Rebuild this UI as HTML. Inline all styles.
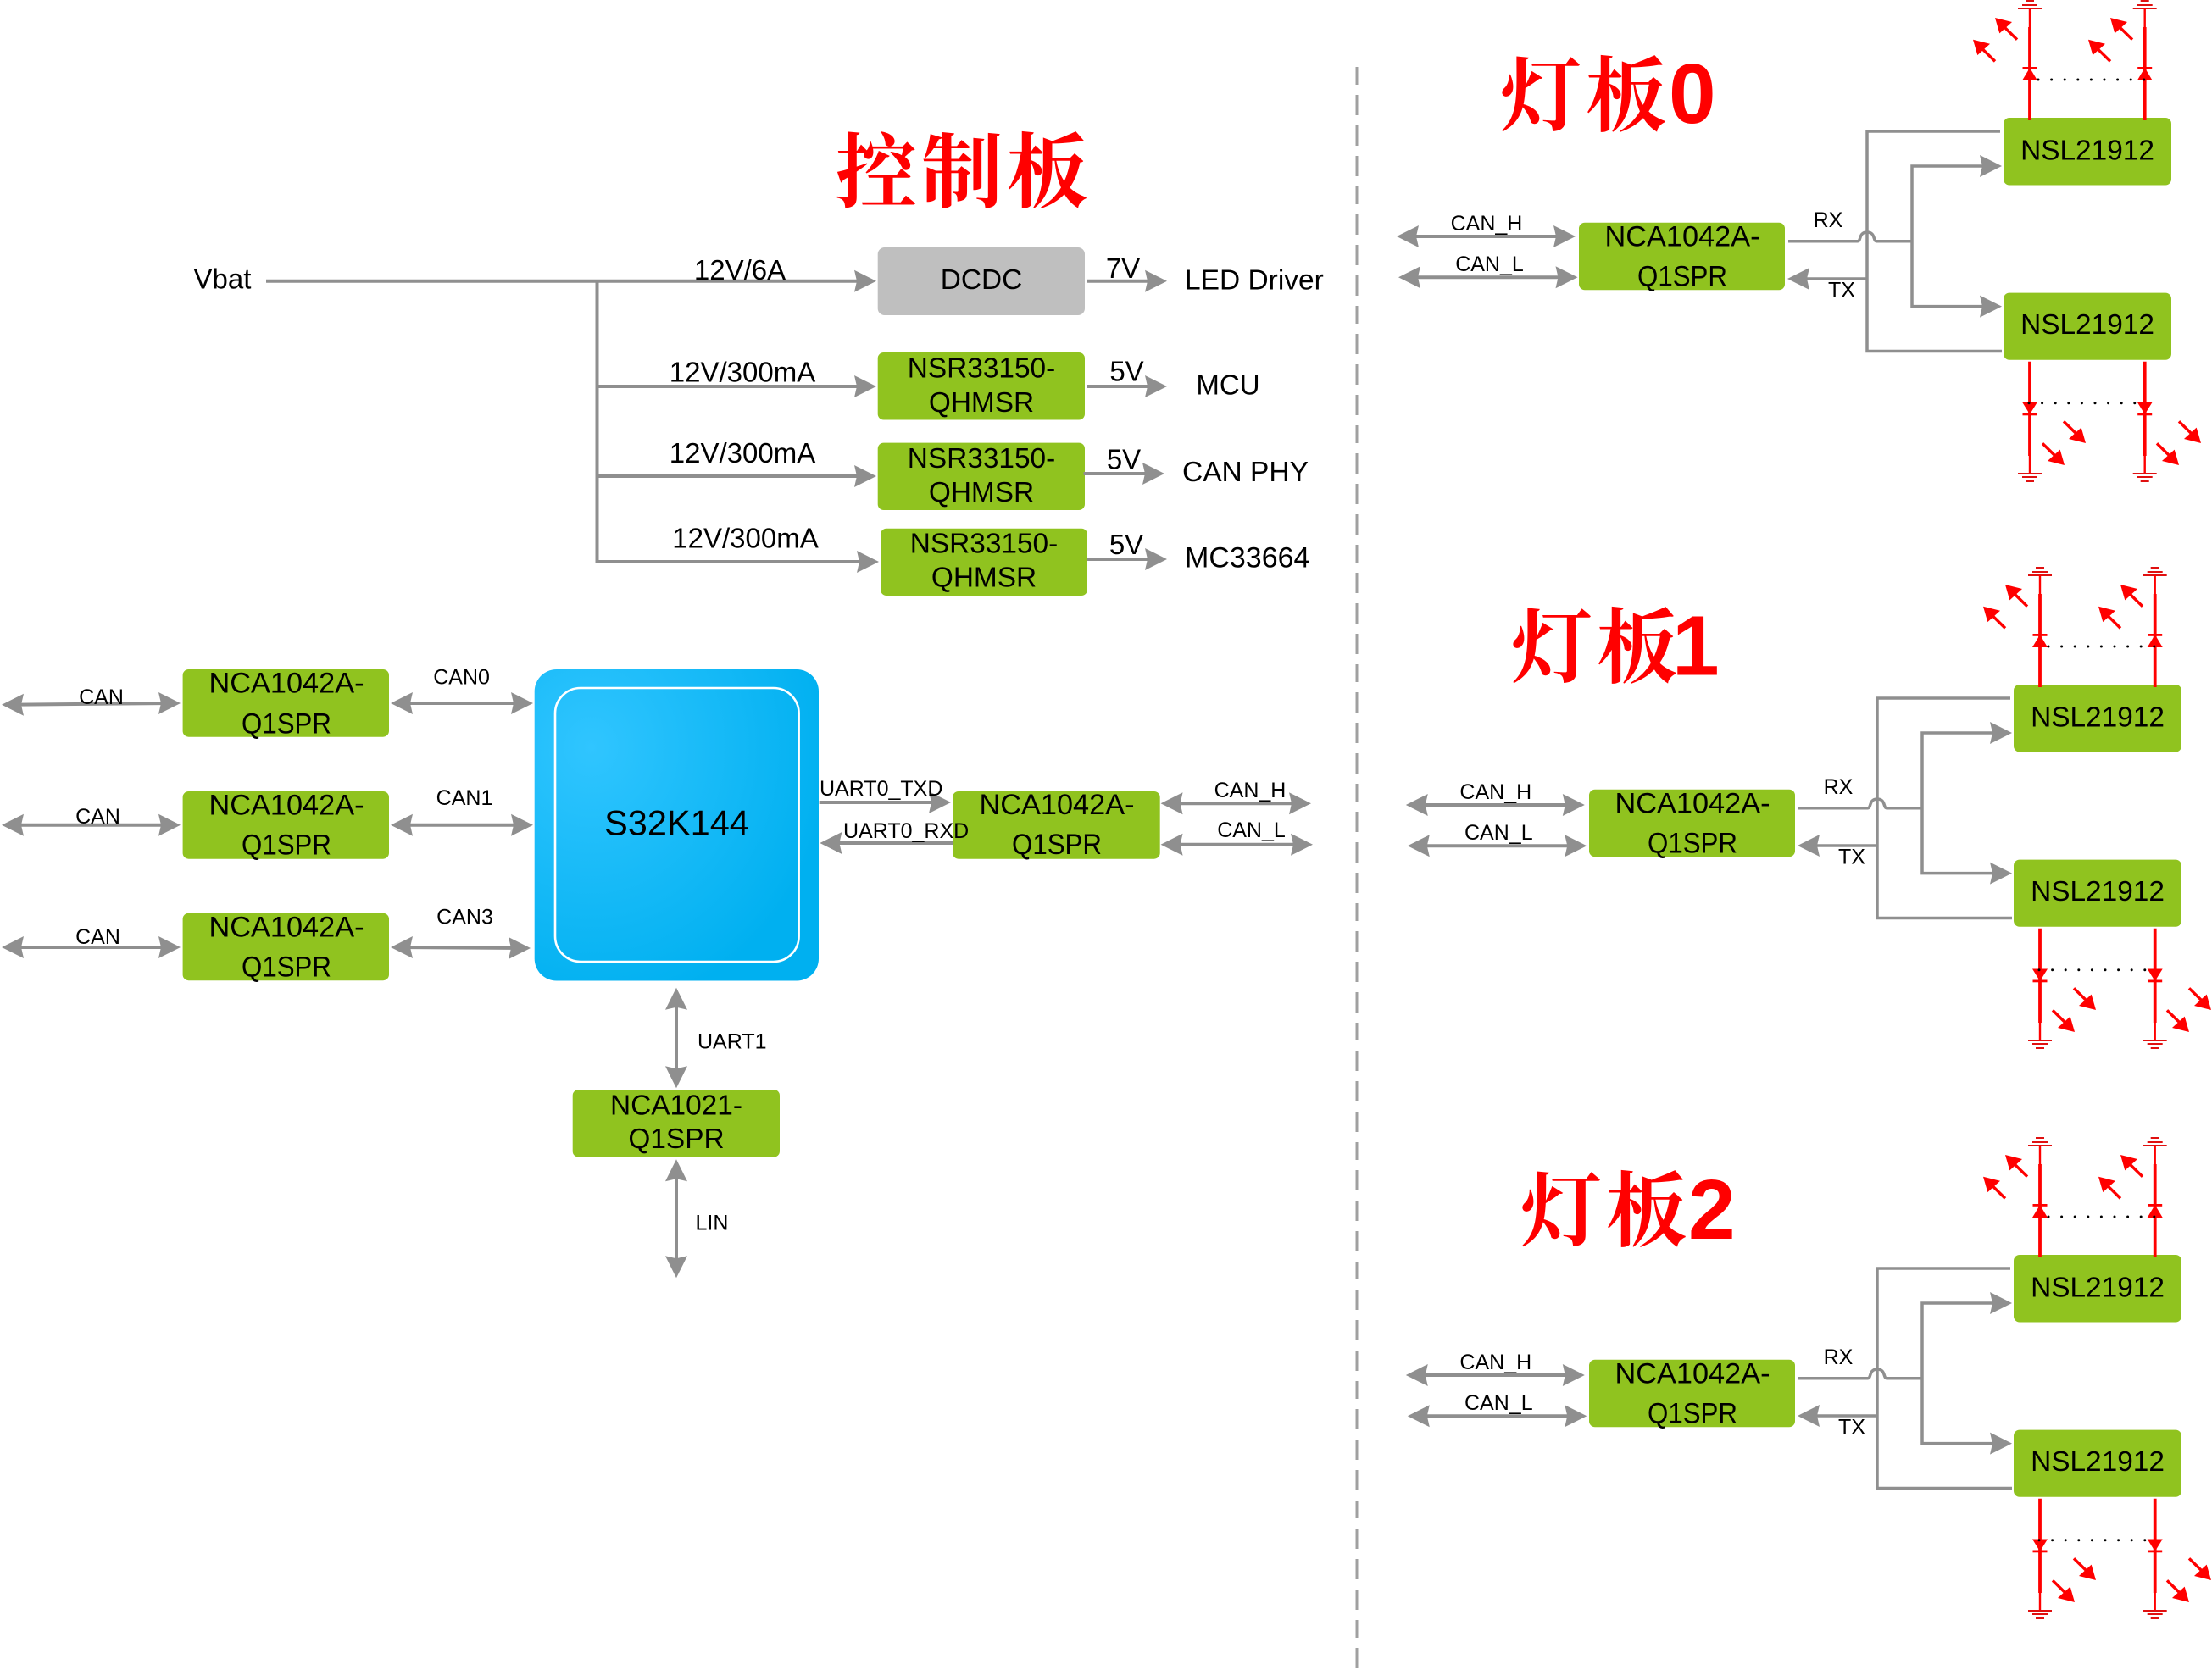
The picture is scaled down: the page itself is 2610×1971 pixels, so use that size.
<!DOCTYPE html>
<html lang="zh">
<head>
<meta charset="utf-8">
<title>Diagram</title>
<style>
html,body{margin:0;padding:0;background:#fff;}
svg{display:block;}
text{font-family:"Liberation Sans","Noto Sans CJK SC",sans-serif;fill:#000;}
.m{text-anchor:middle;}
.s{font-size:25px;}
.b{font-size:33.4px;}
.n{font-size:34.3px;}
.w{font-size:33px;}
.cn{font-family:"Liberation Serif","Noto Serif CJK SC",serif;font-size:96px;font-weight:700;fill:#ff0000;}
.dg{font-family:"Liberation Sans",sans-serif;font-size:100px;font-weight:700;fill:#ff0000;}
.l{fill:none;stroke:#8f8f8f;stroke-width:4;}
.k{fill:none;stroke:#8f8f8f;stroke-width:3.5;}
.g{fill:#90c31f;}
.r{stroke:#f00;fill:none;}
</style>
</head>
<body>
<svg xmlns="http://www.w3.org/2000/svg" width="2610" height="1971" viewBox="0 0 2610 1971">
<defs>
<radialGradient id="blue" cx="0.2" cy="0.25" r="0.85">
<stop offset="0" stop-color="#30c5ff"/>
<stop offset="1" stop-color="#00b0f0"/>
</radialGradient>
<polygon id="aR" points="0,0 -26,-13 -23,0 -26,13" fill="#8f8f8f"/>
<polygon id="aL" points="0,0 26,-13 23,0 26,13" fill="#8f8f8f"/>
<polygon id="aU" points="0,0 -13,26 0,23 13,26" fill="#8f8f8f"/>
<polygon id="aD" points="0,0 -13,-26 0,-23 13,-26" fill="#8f8f8f"/>
<g id="ul"><path d="M11 11L26 25.7" stroke="#f00" stroke-width="3.4" fill="none"/><polygon points="0,0 5.3,18.4 20,5" fill="#f00"/></g>
<g id="dr"><path d="M-11 -11L-26 -25.7" stroke="#f00" stroke-width="3.4" fill="none"/><polygon points="0,0 -5.3,-18.4 -20,-5" fill="#f00"/></g>
<g id="ledU">
<rect x="-14" y="9" width="28" height="2" fill="#e01010"/>
<rect x="-9" y="5" width="18" height="2" fill="#e01010"/>
<rect x="-5" y="0" width="10" height="2" fill="#e01010"/>
<path class="r" stroke-width="2.4" d="M0 10V32"/>
<path class="r" stroke-width="3.8" d="M0 32V142"/>
<rect x="-8.5" y="79" width="17" height="2.8" fill="#f00"/>
<polygon points="0,80 -9,95 9,95" fill="#f00"/>
</g>
<g id="ledD">
<path class="r" stroke-width="3.8" d="M0 426.7V538"/>
<path class="r" stroke-width="2.4" d="M0 538V559"/>
<polygon points="0,489 -9,474.5 9,474.5" fill="#f00"/>
<rect x="-8.5" y="487.5" width="17" height="2.8" fill="#f00"/>
<rect x="-14" y="558" width="28" height="2" fill="#e01010"/>
<rect x="-9" y="562" width="18" height="2" fill="#e01010"/>
<rect x="-5" y="567" width="10" height="2" fill="#e01010"/>
</g>
<g id="can">
<path class="l" d="M1656 279H1851"/>
<use href="#aL" x="1648" y="279"/><use href="#aR" x="1859" y="279"/>
<path class="l" d="M1658 327.3H1853"/>
<use href="#aL" x="1650" y="327.3"/><use href="#aR" x="1861.5" y="327.3"/>
</g>
<g id="lb">
<rect class="g" x="1863" y="262.7" width="243" height="79.6" rx="7"/>
<rect class="g" x="2364" y="139" width="198" height="79.5" rx="7"/>
<rect class="g" x="2364" y="345.6" width="198" height="79.2" rx="7"/>
<path class="k" d="M2360 155H2203V414.5H2362"/>
<path class="k" d="M2203 329H2125"/>
<use href="#aL" x="2109" y="329"/>
<path class="k" d="M2345 196H2256V361.6H2345"/>
<use href="#aR" x="2362" y="196"/><use href="#aR" x="2362" y="361.6"/>
<path class="k" d="M2110 284.7H2192C2196 284.7 2193 274 2203 274C2213 274 2210 284.7 2214 284.7H2256"/>
<use href="#ledU" x="2395"/><use href="#ledU" x="2530.7"/>
<use href="#ledD" x="2395"/><use href="#ledD" x="2530.7"/>
<path d="M2405 94H2531" stroke="#000" stroke-width="3" stroke-linecap="round" stroke-dasharray="0 15.6" fill="none"/>
<path d="M2394 475.7H2531" stroke="#000" stroke-width="3" stroke-linecap="round" stroke-dasharray="0 15.6" fill="none"/>
<use href="#ul" x="2354" y="21"/><use href="#ul" x="2328" y="46.7"/><use href="#ul" x="2490" y="21"/><use href="#ul" x="2464" y="46.7"/>
<use href="#dr" x="2461" y="523"/><use href="#dr" x="2436" y="549"/><use href="#dr" x="2597" y="523"/><use href="#dr" x="2571" y="549"/>
</g>
</defs>

<rect width="2610" height="1971" fill="#fff"/>

<!-- divider -->
<path d="M1601 79V1971" stroke="#a0a0a0" stroke-width="3" stroke-dasharray="21 12 24 12 24 12 24 12" fill="none"/>

<!-- control board title -->
<text class="cn" x="986 1087 1188" y="237">控制板</text>

<!-- power rails -->
<text class="w m" x="262.5" y="340.5">Vbat</text>
<path class="l" d="M314 331.7H1015M704.5 331.7V663H1020M704.5 456H1016M704.5 562H1016"/>
<use href="#aR" x="1034" y="331.7"/><use href="#aR" x="1034" y="456"/><use href="#aR" x="1034" y="562"/><use href="#aR" x="1037" y="663"/>
<rect x="1035.7" y="292" width="244.3" height="80" rx="8" fill="#bfbfbf"/>
<rect class="g" x="1035.7" y="416" width="244.3" height="79.5" rx="7"/>
<rect class="g" x="1035.7" y="522.6" width="244.3" height="79.4" rx="7"/>
<rect class="g" x="1039" y="623.7" width="244" height="79.3" rx="7"/>
<text class="b m" x="1158" y="341">DCDC</text>
<text class="b m" x="1158" y="445.7">NSR33150-</text><text class="b m" x="1158" y="486">QHMSR</text>
<text class="b m" x="1158" y="552">NSR33150-</text><text class="b m" x="1158" y="592">QHMSR</text>
<text class="b m" x="1161" y="652.4">NSR33150-</text><text class="b m" x="1161" y="692.6">QHMSR</text>
<text class="w m" x="873" y="330">12V/6A</text>
<text class="w m" x="876" y="450.7">12V/300mA</text>
<text class="w m" x="876" y="546">12V/300mA</text>
<text class="w m" x="879.5" y="646.6">12V/300mA</text>
<path class="l" d="M1282 331.7H1358M1282 456H1358M1278.6 559H1355M1283 660H1358"/>
<use href="#aR" x="1377" y="331.7"/><use href="#aR" x="1377" y="456"/><use href="#aR" x="1374" y="559"/><use href="#aR" x="1377" y="660"/>
<text class="w m" x="1325" y="328">7V</text>
<text class="w m" x="1329.5" y="449.6">5V</text>
<text class="w m" x="1326" y="553.6">5V</text>
<text class="w m" x="1329" y="654">5V</text>
<text style="font-size:33.5px" x="1398" y="341.6">LED Driver</text>
<text class="w m" x="1449" y="465.6">MCU</text>
<text style="font-size:33.5px" x="1395" y="568">CAN PHY</text>
<text style="font-size:34px" x="1398" y="669.6">MC33664</text>

<!-- MCU -->
<rect x="630.7" y="790" width="335.3" height="367.5" rx="26" fill="url(#blue)"/>
<rect x="655" y="812" width="287.6" height="323" rx="30" fill="none" stroke="#fff" stroke-width="2.6"/>
<text class="m" style="font-size:41.5px" x="798.5" y="985.7">S32K144</text>

<!-- left CAN transceivers -->
<rect class="g" x="215.6" y="790" width="243.4" height="79.7" rx="7"/>
<rect class="g" x="215.6" y="934" width="243.4" height="79.7" rx="7"/>
<rect class="g" x="215.6" y="1077.7" width="243.4" height="79.5" rx="7"/>
<text class="n m" x="338" y="817.3">NCA1042A-</text><text class="n m" x="338" y="865.7" textLength="106" lengthAdjust="spacingAndGlyphs">Q1SPR</text>
<text class="n m" x="338" y="961.7">NCA1042A-</text><text class="n m" x="338" y="1008.3" textLength="106" lengthAdjust="spacingAndGlyphs">Q1SPR</text>
<text class="n m" x="338" y="1105.7">NCA1042A-</text><text class="n m" x="338" y="1152.7" textLength="106" lengthAdjust="spacingAndGlyphs">Q1SPR</text>
<path class="l" d="M10 831.7L204 830M469 830H621M10 973.7H204M469 973.7H621M10 1118H204M469 1118L618 1119"/>
<use href="#aL" x="2" y="831.7"/><use href="#aR" x="213" y="830"/><use href="#aL" x="461" y="830"/><use href="#aR" x="629" y="830"/>
<use href="#aL" x="2" y="973.7"/><use href="#aR" x="213" y="973.7"/><use href="#aL" x="461" y="973.7"/><use href="#aR" x="629" y="973.7"/>
<use href="#aL" x="2" y="1118"/><use href="#aR" x="213" y="1118"/><use href="#aL" x="461" y="1118"/><use href="#aR" x="626" y="1119"/>
<text class="s m" x="119.5" y="831">CAN</text>
<text class="s m" x="115.5" y="972">CAN</text>
<text class="s m" x="115.5" y="1114">CAN</text>
<text class="s m" x="544.6" y="807.7">CAN0</text>
<text class="s m" x="548" y="950">CAN1</text>
<text class="s m" x="548.5" y="1090.7">CAN3</text>

<!-- UART0 transceiver -->
<rect class="g" x="1124" y="934" width="244.7" height="79.7" rx="7"/>
<text class="n m" x="1247" y="961">NCA1042A-</text><text class="n m" x="1247" y="1008" textLength="106" lengthAdjust="spacingAndGlyphs">Q1SPR</text>
<path class="l" d="M966.6 947H1105M985 995H1124M1378 948.3H1538M1378 996.7H1540"/>
<use href="#aR" x="1122" y="947"/><use href="#aL" x="967.4" y="995"/>
<use href="#aL" x="1369.6" y="948.3"/><use href="#aR" x="1547" y="948.3"/>
<use href="#aL" x="1369.6" y="996.7"/><use href="#aR" x="1549" y="996.7"/>
<text style="font-size:25px" x="967" y="939">UART0_TXD</text>
<text style="font-size:25px" x="995" y="989">UART0_RXD</text>
<text class="s m" x="1475" y="941">CAN_H</text>
<text class="s m" x="1476.5" y="988">CAN_L</text>

<!-- LIN -->
<rect class="g" x="675.7" y="1286" width="244.3" height="79.7" rx="7"/>
<text class="b m" x="798" y="1315.7">NCA1021-</text><text class="b m" x="798" y="1355">Q1SPR</text>
<path class="l" d="M798 1174V1276M798 1377V1500"/>
<use href="#aU" x="798" y="1165.7"/><use href="#aD" x="798" y="1284.3"/>
<use href="#aU" x="798" y="1368.3"/><use href="#aD" x="798" y="1508.3"/>
<text class="s" x="823" y="1237.7">UART1</text>
<text class="s" x="820.5" y="1451.7">LIN</text>

<!-- light board 0 -->
<g>
<text class="cn" x="1770 1871" y="147">灯板</text>
<text class="dg" x="1969" y="145">0</text>
<use href="#lb"/>
<use href="#can"/>
<text class="s m" x="1754" y="272">CAN_H</text>
<text class="s m" x="1757.5" y="320">CAN_L</text>
<text class="s m" x="2157" y="268">RX</text>
<text class="s m" x="2173" y="350.7">TX</text>
<text class="n m" x="1985" y="290.7">NCA1042A-</text><text class="n m" x="1985" y="337.3" textLength="106" lengthAdjust="spacingAndGlyphs">Q1SPR</text>
<text class="b m" x="2463" y="188.3">NSL21912</text>
<text class="b m" x="2463" y="394">NSL21912</text>
</g>

<!-- light board 1 -->
<text class="cn" x="1783 1884" y="798">灯板</text>
<text class="dg" x="1973" y="796.6">1</text>
<g transform="translate(12,669)">
<use href="#lb"/>
<g transform="translate(-1.2,2)">
<use href="#can"/>
<text class="s m" x="1754" y="272">CAN_H</text>
<text class="s m" x="1757.5" y="320">CAN_L</text>
</g>
<text class="s m" x="2157" y="268">RX</text>
<text class="s m" x="2173" y="350.7">TX</text>
<text class="n m" x="1985" y="290.7">NCA1042A-</text><text class="n m" x="1985" y="337.3" textLength="106" lengthAdjust="spacingAndGlyphs">Q1SPR</text>
<text class="b m" x="2463" y="188.3">NSL21912</text>
<text class="b m" x="2463" y="394">NSL21912</text>
</g>

<!-- light board 2 -->
<text class="cn" x="1794 1895" y="1463">灯板</text>
<text class="dg" x="1992" y="1462">2</text>
<g transform="translate(12,1342)">
<use href="#lb"/>
<g transform="translate(-1.2,2)">
<use href="#can"/>
<text class="s m" x="1754" y="272">CAN_H</text>
<text class="s m" x="1757.5" y="320">CAN_L</text>
</g>
<text class="s m" x="2157" y="268">RX</text>
<text class="s m" x="2173" y="350.7">TX</text>
<text class="n m" x="1985" y="290.7">NCA1042A-</text><text class="n m" x="1985" y="337.3" textLength="106" lengthAdjust="spacingAndGlyphs">Q1SPR</text>
<text class="b m" x="2463" y="188.3">NSL21912</text>
<text class="b m" x="2463" y="394">NSL21912</text>
</g>
</svg>
</body>
</html>
